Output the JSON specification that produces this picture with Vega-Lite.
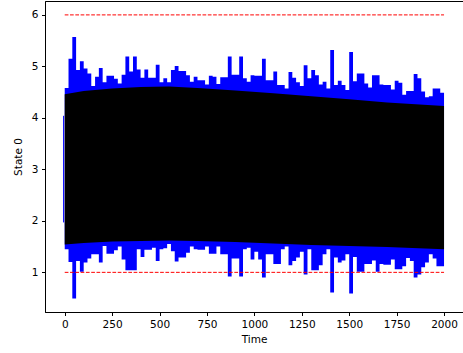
{
  "$schema": "https://vega.github.io/schema/vega-lite/v6.json",
  "width": 418,
  "height": 311,
  "autosize": {"type": "none"},
  "padding": {"left": 45, "top": 1, "right": 0, "bottom": 41},
  "config": {
    "view": {"stroke": "black", "strokeWidth": 1},
    "axis": {
      "grid": false,
      "domainColor": "black",
      "tickColor": "black",
      "labelColor": "black",
      "titleColor": "black",
      "labelFont": "DejaVu Sans",
      "titleFont": "DejaVu Sans",
      "labelFontSize": 10.5,
      "titleFontSize": 10.5,
      "titleFontWeight": "normal",
      "tickSize": 3.5,
      "labelPadding": 3.5
    }
  },
  "datasets": {
    "bands": [
      {"t":0,"hi":4.58,"lo":1.45},{"t":20,"hi":5.15,"lo":1.2},{"t":40,"hi":5.57,"lo":0.49},{"t":60,"hi":4.93,"lo":1.22},
      {"t":80,"hi":5.10,"lo":1.01},{"t":100,"hi":4.96,"lo":1.19},{"t":120,"hi":4.86,"lo":1.27},{"t":140,"hi":4.62,"lo":1.35},
      {"t":160,"hi":4.80,"lo":1.35},{"t":180,"hi":4.97,"lo":1.19},{"t":200,"hi":4.69,"lo":1.51},{"t":220,"hi":4.82,"lo":1.36},
      {"t":240,"hi":4.82,"lo":1.36},{"t":260,"hi":4.76,"lo":1.43},{"t":280,"hi":4.67,"lo":1.50},{"t":300,"hi":4.84,"lo":1.25},
      {"t":320,"hi":5.19,"lo":1.04},{"t":340,"hi":4.90,"lo":1.04},{"t":360,"hi":5.19,"lo":1.04},{"t":380,"hi":4.94,"lo":1.45},
      {"t":400,"hi":4.78,"lo":1.30},{"t":420,"hi":4.94,"lo":1.44},{"t":440,"hi":4.78,"lo":1.44},{"t":460,"hi":4.78,"lo":1.48},
      {"t":480,"hi":5.03,"lo":1.22},{"t":500,"hi":4.69,"lo":1.45},{"t":520,"hi":4.77,"lo":1.47},{"t":540,"hi":4.69,"lo":1.55},
      {"t":560,"hi":4.93,"lo":1.41},{"t":580,"hi":5.01,"lo":1.21},{"t":600,"hi":4.91,"lo":1.29},{"t":620,"hi":4.91,"lo":1.29},
      {"t":640,"hi":4.83,"lo":1.38},{"t":660,"hi":4.70,"lo":1.50},{"t":680,"hi":4.80,"lo":1.45},{"t":700,"hi":4.73,"lo":1.44},
      {"t":720,"hi":4.73,"lo":1.44},{"t":740,"hi":4.65,"lo":1.50},{"t":760,"hi":4.82,"lo":1.36},{"t":780,"hi":4.80,"lo":1.36},
      {"t":800,"hi":4.66,"lo":1.50},{"t":820,"hi":4.79,"lo":1.35},{"t":840,"hi":4.79,"lo":1.35},{"t":860,"hi":5.19,"lo":0.92},
      {"t":880,"hi":4.84,"lo":1.27},{"t":900,"hi":4.84,"lo":1.27},{"t":920,"hi":5.19,"lo":0.92},{"t":940,"hi":4.77,"lo":1.45},
      {"t":960,"hi":4.70,"lo":1.48},{"t":980,"hi":4.83,"lo":1.25},{"t":1000,"hi":4.82,"lo":1.40},{"t":1020,"hi":4.82,"lo":1.25},
      {"t":1040,"hi":5.15,"lo":0.90},{"t":1060,"hi":4.73,"lo":1.35},{"t":1080,"hi":4.73,"lo":1.35},{"t":1100,"hi":4.90,"lo":1.16},
      {"t":1120,"hi":4.64,"lo":1.16},{"t":1140,"hi":4.64,"lo":1.45},{"t":1160,"hi":4.57,"lo":1.50},{"t":1180,"hi":4.89,"lo":1.14},
      {"t":1200,"hi":4.78,"lo":1.22},{"t":1220,"hi":4.69,"lo":1.29},{"t":1240,"hi":4.62,"lo":1.40},{"t":1260,"hi":5.02,"lo":0.96},
      {"t":1280,"hi":4.77,"lo":1.45},{"t":1300,"hi":4.93,"lo":1.04},{"t":1320,"hi":4.83,"lo":1.04},{"t":1340,"hi":4.65,"lo":1.14},
      {"t":1360,"hi":4.70,"lo":1.35},{"t":1380,"hi":4.57,"lo":1.45},{"t":1400,"hi":5.32,"lo":0.61},{"t":1420,"hi":4.64,"lo":1.29},
      {"t":1440,"hi":4.72,"lo":1.19},{"t":1460,"hi":4.64,"lo":1.23},{"t":1480,"hi":4.54,"lo":1.35},{"t":1500,"hi":5.28,"lo":0.59},
      {"t":1520,"hi":4.71,"lo":1.30},{"t":1540,"hi":4.86,"lo":1.01},{"t":1560,"hi":4.86,"lo":1.01},{"t":1580,"hi":4.67,"lo":1.16},
      {"t":1600,"hi":4.59,"lo":1.16},{"t":1620,"hi":4.83,"lo":1.23},{"t":1640,"hi":4.83,"lo":1.01},{"t":1660,"hi":4.65,"lo":1.16},
      {"t":1680,"hi":4.64,"lo":1.15},{"t":1700,"hi":4.64,"lo":1.15},{"t":1720,"hi":4.55,"lo":1.25},{"t":1740,"hi":4.72,"lo":1.06},
      {"t":1760,"hi":4.68,"lo":1.06},{"t":1780,"hi":4.45,"lo":1.12},{"t":1800,"hi":4.52,"lo":1.28},{"t":1820,"hi":4.52,"lo":1.22},
      {"t":1840,"hi":4.85,"lo":0.90},{"t":1860,"hi":4.77,"lo":0.96},{"t":1880,"hi":4.51,"lo":1.10},{"t":1900,"hi":4.40,"lo":1.19},
      {"t":1920,"hi":4.42,"lo":1.35},{"t":1940,"hi":4.57,"lo":1.27},{"t":1960,"hi":4.57,"lo":1.12},{"t":1980,"hi":4.49,"lo":1.12},
      {"t":2000,"hi":4.49,"lo":1.12}
    ],
    "envelope": [
      {"t":0,"top":4.46,"bot":1.54},{"t":100,"top":4.52,"bot":1.57},{"t":250,"top":4.57,"bot":1.60},
      {"t":400,"top":4.60,"bot":1.61},{"t":550,"top":4.61,"bot":1.62},{"t":700,"top":4.58,"bot":1.61},
      {"t":900,"top":4.53,"bot":1.59},{"t":1100,"top":4.48,"bot":1.56},{"t":1300,"top":4.42,"bot":1.53},
      {"t":1500,"top":4.36,"bot":1.51},{"t":1700,"top":4.30,"bot":1.49},{"t":2000,"top":4.23,"bot":1.45}
    ],
    "refs": [
      {"t0":0,"t1":2000,"y":1},{"t0":0,"t1":2000,"y":6}
    ],
    "transient": [
      {"t":-6,"lo":1.97,"hi":4.04}
    ]
  },
  "layer": [
    {
      "data": {"name": "bands"},
      "mark": {"type": "area", "interpolate": "step-after", "color": "#0000ff"},
      "encoding": {
        "x": {"field": "t", "type": "quantitative", "scale": {"domain": [-104, 2100], "nice": false, "zero": false},
              "axis": {"title": "Time", "values": [0,250,500,750,1000,1250,1500,1750,2000], "format": "d", "titlePadding": 5}},
        "y": {"field": "lo", "type": "quantitative", "scale": {"domain": [0.23, 6.27], "nice": false, "zero": false},
              "axis": {"title": "State 0", "values": [1,2,3,4,5,6], "format": "d", "titlePadding": 8}},
        "y2": {"field": "hi"}
      }
    },
    {
      "data": {"name": "transient"},
      "mark": {"type": "rule", "color": "#0000ff", "strokeWidth": 1},
      "encoding": {
        "x": {"field": "t", "type": "quantitative"},
        "y": {"field": "lo", "type": "quantitative"},
        "y2": {"field": "hi"}
      }
    },
    {
      "data": {"name": "envelope"},
      "mark": {"type": "area", "color": "black"},
      "encoding": {
        "x": {"field": "t", "type": "quantitative"},
        "y": {"field": "bot", "type": "quantitative"},
        "y2": {"field": "top"}
      }
    },
    {
      "data": {"name": "refs"},
      "mark": {"type": "rule", "color": "red", "strokeWidth": 1, "strokeDash": [3.7, 1.6]},
      "encoding": {
        "x": {"field": "t0", "type": "quantitative"},
        "x2": {"field": "t1"},
        "y": {"field": "y", "type": "quantitative"}
      }
    }
  ]
}
